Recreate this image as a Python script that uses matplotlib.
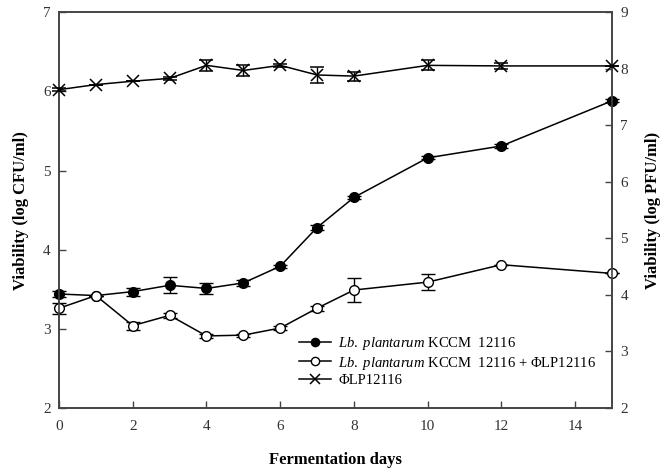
import matplotlib.pyplot as plt
import numpy as np

plt.rcParams['font.family'] = 'Liberation Serif'
plt.rcParams['mathtext.fontset'] = 'custom'
plt.rcParams['mathtext.it'] = 'Liberation Serif:italic'
plt.rcParams['mathtext.rm'] = 'Liberation Serif'

# Fermentation days
days = [0, 1, 2, 3, 4, 5, 6, 7, 8, 10, 12, 15]

# Lb. plantarum KCCM 12116 (log CFU/ml)
lb = [3.44, 3.42, 3.47, 3.55, 3.51, 3.58, 3.79, 4.28, 4.66, 5.16, 5.31, 5.88]
lb_err = [0.04, 0.0, 0.05, 0.10, 0.07, 0.04, 0.02, 0.03, 0.02, 0.02, 0.02, 0.02]

# Lb. plantarum + phage (log CFU/ml)
lbp = [3.26, 3.42, 3.04, 3.17, 2.91, 2.92, 3.01, 3.26, 3.49, 3.59, 3.81, 3.70]
lbp_err = [0.07, 0.0, 0.05, 0.03, 0.02, 0.02, 0.02, 0.03, 0.15, 0.10, 0.0, 0.0]

# Phage LP12116 (log PFU/ml)
phage = [7.63, 7.72, 7.78, 7.83, 8.06, 7.97, 8.06, 7.89, 7.87, 8.06, 8.05, 8.05]
phage_err = [0.03, 0.0, 0.0, 0.03, 0.10, 0.09, 0.03, 0.14, 0.08, 0.09, 0.05, 0.0]

fig = plt.figure(figsize=(6.71, 4.70), dpi=100)
ax = fig.add_axes([0.088, 0.132, 0.824, 0.842])
ax2 = ax.twinx()

kw = dict(color='black', lw=1.1, capsize=5, elinewidth=1.0, capthick=1.0, clip_on=False, zorder=3)
h1 = ax.errorbar(days, lb, yerr=lb_err, marker='o', ms=7, mfc='black', mec='black', **kw)
h2 = ax.errorbar(days, lbp, yerr=lbp_err, marker='o', ms=7, mfc='white', mec='black', **kw)
h3 = ax2.errorbar(days, phage, yerr=phage_err, marker='x', ms=8, mew=1.1, **kw)

ax.set_xlim(0, 15)
ax.set_ylim(2, 7)
ax2.set_ylim(2, 9)
ax.set_xticks(np.arange(0, 15, 2))
ax.set_yticks([2, 3, 4, 5, 6, 7])
ax2.set_yticks([2, 3, 4, 5, 6, 7, 8, 9])

for a in (ax, ax2):
    for s in a.spines.values():
        s.set_color('#444444')
        s.set_linewidth(1.2)
ax.tick_params(direction='in', length=5, width=1, labelsize=11, colors='#444444', labelcolor='#333333', pad=6)
ax2.tick_params(direction='in', length=5, width=1, labelsize=11, colors='#444444', labelcolor='#333333', pad=6)
ax.tick_params(axis='x', pad=9)

ax.set_xlabel('Fermentation days', fontsize=12, fontweight='bold', labelpad=13)
ax.set_ylabel('Viability (log CFU/ml)', fontsize=12, fontweight='bold', labelpad=10)
ax2.set_ylabel('Viability (log PFU/ml)', fontsize=12, fontweight='bold', labelpad=12)

leg = ax.legend([h1[0], h2[0], h3[0]],
                [r'$\it{Lb.\ plantarum}$ KCCM  12116',
                 r'$\it{Lb.\ plantarum}$ KCCM  12116 + ΦLP12116',
                 'ΦLP12116'],
                loc='lower right', bbox_to_anchor=(0.995, 0.02), frameon=False,
                fontsize=10.5, handlelength=2.2, handletextpad=0.5, labelspacing=0.15,
                markerscale=0.85)

fig.savefig('out.png', dpi=100)
